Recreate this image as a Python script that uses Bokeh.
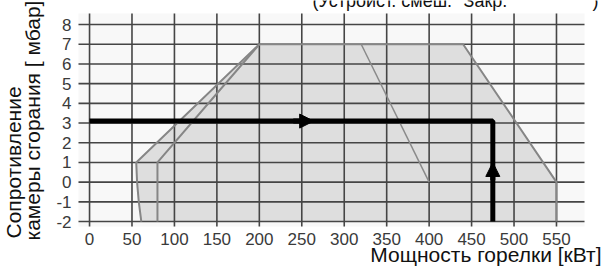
import math
from bokeh.plotting import figure
from bokeh.models import Range1d, Arrow, NormalHead
from bokeh.core.properties import value
from bokeh.embed import file_html
from bokeh.resources import INLINE

# ---- data ----
x_ticks = [0, 50, 100, 150, 200, 250, 300, 350, 400, 450, 500, 550]
x_tick_labels = ["0", "50", "100", "150", "200", "250", "300", "350", "400", "450", "500", "550"]
y_ticks = [-2, -1, 0, 1, 2, 3, 4, 5, 6, 7, 8]
y_tick_labels = ["-2", "-1", "0", "1", "2", "3", "4", "5", "6", "7", "8"]

# outer working envelope (kW, mbar)
env_x = [61, 58, 56, 55, 200, 440, 550, 550]
env_y = [-2, -1, 0, 1, 7, 7, 0, -2]
# inner left boundary
inner_x = [80, 80, 200]
inner_y = [-2, 1, 7]
# middle diagonal
mid_x = [320, 400]
mid_y = [7, 0]
# example reading path
path_x = [0, 475, 475]
path_y = [3.1, 3.1, -2]
arrow_h = ([240, 264], [3.1, 3.1])
arrow_v = ([475, 475], [0.1, 1.0])

title_top = '(Устройст. смеш. "Закр.'
title_top_end = ')'
x_title = "Мощность горелки [кВт]"
y_title1 = "Сопротивление"
y_title2 = "камеры сгорания [ мбар]"

# ---- layout: the frame covers the whole canvas; the chart area is drawn inside ----
W, H = 608, 268
FL, FR, FT, FB = 78, 584, 13, 226          # chart area in canvas pixels
X0, X1 = -13, 583                          # kW at chart-area edges
Y0, Y1 = -2.25, 8.56                       # mbar at chart-area edges
KX = (X1 - X0) / (FR - FL)
KY = (Y1 - Y0) / (FB - FT)


def dx(px):
    return X0 + (px - FL) * KX


def dy(py):
    return Y1 - (py - FT) * KY


FONT = "Liberation Sans"

p = figure(width=W, height=H, output_backend="svg", toolbar_location=None,
           x_range=Range1d(dx(0), dx(W)), y_range=Range1d(dy(H), dy(0)),
           x_axis_type=None, y_axis_type=None,
           min_border_left=0, min_border_right=0, min_border_top=0, min_border_bottom=0,
           margin=(0, 0, 0, 0))
p.outline_line_color = None
p.background_fill_color = "white"
p.border_fill_color = "white"

# chart area background
p.quad(left=[X0], right=[X1], bottom=[Y0], top=[Y1], fill_color="#f8f8f8", line_color=None)

# envelope fill (translucent so the grid shows through)
p.patch(env_x, env_y, fill_color="black", fill_alpha=0.1, line_color=None)

# grid
p.segment(x0=x_ticks, y0=[Y0] * len(x_ticks), x1=x_ticks, y1=[Y1] * len(x_ticks),
          line_color="#454545", line_width=1.6)
p.segment(x0=[X0] * len(y_ticks), y0=y_ticks, x1=[X1] * len(y_ticks), y1=y_ticks,
          line_color="#454545", line_width=1.6)

# envelope outlines
p.line(env_x, env_y, line_color="#868686", line_width=2)
p.line(inner_x, inner_y, line_color="#868686", line_width=2)
p.line(mid_x, mid_y, line_color="#8a8a8a", line_width=1.5)

# reading path
p.line(path_x, path_y, line_color="black", line_width=5)
for xs, ys in (arrow_h, arrow_v):
    p.add_layout(Arrow(end=NormalHead(size=14, fill_color="black", line_color="black", line_width=1),
                       x_start=xs[0], y_start=ys[0], x_end=xs[1], y_end=ys[1],
                       line_color="black", line_width=5))

# tick labels
p.text(x=x_ticks, y=[Y0] * len(x_ticks), text=x_tick_labels, text_font=value(FONT),
       text_font_size="17px", text_color="#3a3a3a", text_align="center",
       text_baseline="top", y_offset=6)
p.text(x=[X0] * len(y_ticks), y=y_ticks, text=y_tick_labels, text_font=value(FONT),
       text_font_size="17px", text_color="#3a3a3a", text_align="right",
       text_baseline="middle", x_offset=-7)


# titles (px, py = wanted baseline start in canvas pixels; renderer baseline shift compensated)
def label(px, py, txt, size, align="left", angle=0.0):
    shift = 0.39 * size
    if angle:
        px -= shift
    else:
        py -= shift
    p.text(x=[dx(px)], y=[dy(py)], text=[txt], text_font=value(FONT),
           text_font_size=f"{size}px", text_color="#111111", text_align=align,
           text_baseline="alphabetic", angle=angle)


label(312, 8, title_top, 18)
label(592, 8, title_top_end, 18)
label(601, 262, x_title, 21, align="right")
label(21, 238, y_title1, 21, angle=math.pi / 2)
label(40, 240, y_title2, 21, angle=math.pi / 2)

open("out.html", "w").write(file_html(p, INLINE))
